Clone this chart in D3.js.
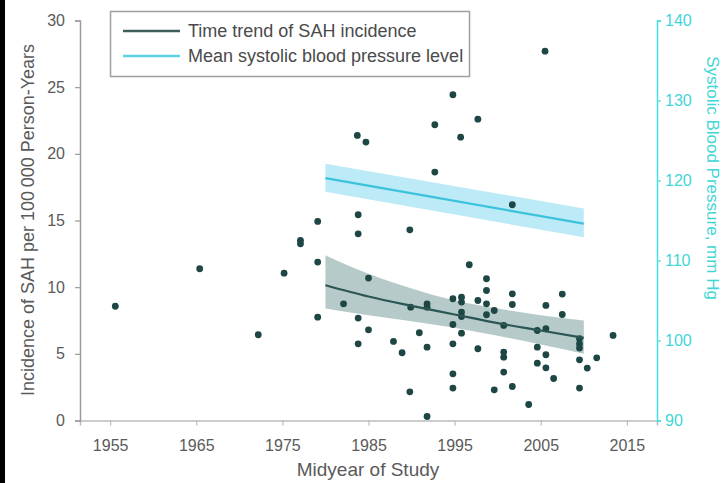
<!DOCTYPE html>
<html lang="en">
<head>
<meta charset="utf-8">
<title>SAH incidence and systolic blood pressure</title>
<script src="https://d3js.org/d3.v7.min.js"></script>
<style>
  body { margin: 0; background: #fff; }
  svg { display: block; font-family: "Liberation Sans Narrow", "Liberation Sans", Arial, sans-serif; }
</style>
</head>
<body>
<svg width="724" height="483"></svg>
<script>
// study points: midyear and incidence per 100 000 person-years
const studyYears = [1955.6, 1965.4, 1972.2, 1975.2, 1977.1, 1977.1, 1979.1, 1979.1, 1979.1, 1982.1,
  1983.8, 1983.8, 1983.8, 1983.8, 1983.7, 1984.7, 1985.0, 1985.0, 1987.9, 1988.9,
  1989.8, 1989.9, 1989.8, 1990.9, 1991.8, 1991.8, 1991.8, 1991.8, 1992.7, 1992.7,
  1994.8, 1994.8, 1994.8, 1994.8, 1994.8, 1994.8, 1995.7, 1995.8, 1995.8, 1995.8,
  1995.8, 1995.8, 1996.7, 1997.7, 1997.7, 1997.7, 1998.7, 1998.7, 1998.7, 1998.7,
  1999.6, 1999.6, 2000.7, 2000.7, 2000.7, 2000.7, 2001.7, 2001.7, 2001.7, 2001.7,
  2003.6, 2004.6, 2004.6, 2004.6, 2005.5, 2005.6, 2005.6, 2005.6, 2005.6, 2006.5,
  2007.5, 2007.5, 2009.5, 2009.5, 2009.5, 2009.5, 2009.5, 2010.4, 2011.5, 2013.4];
const studyRates = [8.57, 11.38, 6.43, 11.05, 13.5, 13.25, 14.93, 11.88, 7.75, 8.75,
  15.43, 14.0, 7.68, 5.75, 21.38, 20.88, 10.68, 6.8, 5.93, 5.08,
  14.3, 8.5, 2.15, 6.58, 8.75, 8.5, 5.5, 0.3, 22.18, 18.63,
  24.43, 9.13, 7.2, 5.75, 3.5, 2.43, 21.25, 9.25, 8.88, 8.13,
  7.8, 6.55, 11.68, 22.6, 9.0, 5.38, 10.63, 9.75, 8.75, 7.93,
  8.25, 2.3, 7.13, 5.13, 4.75, 3.63, 16.18, 9.5, 8.7, 2.55,
  1.2, 6.75, 5.5, 4.3, 27.7, 8.63, 6.88, 4.93, 3.95, 3.15,
  9.48, 7.95, 6.13, 5.75, 5.43, 4.55, 2.43, 3.93, 4.7, 6.38];

// time trend of SAH incidence with 95% CI
const trendYears = [1980, 1985, 1990, 1995, 2000, 2005, 2010];
const trendRate  = [10.15, 9.3, 8.6, 7.95, 7.3, 6.75, 6.2];
const trendUpper = [12.4, 11.0, 9.9, 9.0, 8.4, 7.9, 7.5];
const trendLower = [8.4, 7.9, 7.45, 6.95, 6.35, 5.7, 5.0];

// mean systolic blood pressure with 95% CI
const sbpYears = [1980, 2010];
const sbpMean  = [120.3, 114.6];
const sbpUpper = [122.1, 116.5];
const sbpLower = [118.6, 112.9];

const xTicks = [1955, 1965, 1975, 1985, 1995, 2005, 2015];
const yTicks = [0, 5, 10, 15, 20, 25, 30];
const y2Ticks = [90, 100, 110, 120, 130, 140];

const svg = d3.select("svg");
const margin = { left: 80, right: 657, top: 20.5, bottom: 420.5 };

const x = d3.scaleLinear().domain([1951.5, 2018.5]).range([margin.left, margin.right]);
const y = d3.scaleLinear().domain([0, 30]).range([margin.bottom, margin.top]);
const y2 = d3.scaleLinear().domain([90, 140]).range([margin.bottom, margin.top]);

const grey = "#9a9a9a";
const labelGrey = "#5a5a5a";
const cyan = "#45dede";

// black strip at the left edge
svg.append("rect").attr("x", 0).attr("y", 0).attr("width", 5).attr("height", 483).attr("fill", "#000");

// trend band (SAH)
const trend = trendYears.map((yr, i) => ({ yr, v: trendRate[i], lo: trendLower[i], hi: trendUpper[i] }));
svg.append("path")
  .datum(trend)
  .attr("fill", "#7a9e9c").attr("fill-opacity", 0.55)
  .attr("d", d3.area().curve(d3.curveMonotoneX).x(d => x(d.yr)).y0(d => y(d.lo)).y1(d => y(d.hi)));

// SBP band + line
const sbp = sbpYears.map((yr, i) => ({ yr, v: sbpMean[i], lo: sbpLower[i], hi: sbpUpper[i] }));
svg.append("path")
  .datum(sbp)
  .attr("fill", "#8fdcf0").attr("fill-opacity", 0.6)
  .attr("d", d3.area().x(d => x(d.yr)).y0(d => y2(d.lo)).y1(d => y2(d.hi)));
svg.append("path")
  .datum(sbp)
  .attr("fill", "none").attr("stroke", "#3cc3dc").attr("stroke-width", 2.2)
  .attr("d", d3.line().x(d => x(d.yr)).y(d => y2(d.v)));

// study points
const pts = studyYears.map((yr, i) => ({ yr, v: studyRates[i] }));
svg.append("g")
  .selectAll("circle")
  .data(pts)
  .join("circle")
  .attr("cx", d => x(d.yr))
  .attr("cy", d => y(d.v))
  .attr("r", 3.4)
  .attr("fill", "#1d4644");

svg.append("path")
  .datum(trend)
  .attr("fill", "none").attr("stroke", "#2a5654").attr("stroke-width", 2.2)
  .attr("d", d3.line().curve(d3.curveMonotoneX).x(d => x(d.yr)).y(d => y(d.v)));

// axes
function styleAxis(g, col, textCol) {
  g.select(".domain").attr("stroke", col).attr("stroke-width", 1.5);
  g.selectAll(".tick line").attr("stroke", col).attr("stroke-width", 1.2);
  g.selectAll(".tick text").attr("fill", textCol).attr("font-size", 16)
    .attr("font-family", "\"Liberation Sans Narrow\", \"Liberation Sans\", Arial, sans-serif");
}

svg.append("g")
  .attr("transform", `translate(0,${margin.bottom})`)
  .call(d3.axisBottom(x).tickValues(xTicks).tickFormat(d3.format("d")).tickSizeOuter(0).tickSize(5).tickPadding(14))
  .call(g => styleAxis(g, "#bdbdbd", labelGrey));

svg.append("g")
  .attr("transform", `translate(${margin.left},0)`)
  .call(d3.axisLeft(y).tickValues(yTicks).tickSizeOuter(0).tickSize(5).tickPadding(10))
  .call(g => styleAxis(g, grey, labelGrey));

svg.append("g")
  .attr("transform", `translate(${margin.right},0)`)
  .call(d3.axisRight(y2).tickValues(y2Ticks).tickSizeOuter(0).tickSize(4).tickPadding(4))
  .call(g => styleAxis(g, cyan, "#3fd6d6"));

// axis titles
svg.append("text")
  .attr("transform", `translate(34,220) rotate(-90)`)
  .attr("text-anchor", "middle")
  .attr("fill", labelGrey)
  .attr("font-size", 18)
  .text("Incidence of SAH per 100\u2009000 Person-Years");

svg.append("text")
  .attr("x", 368).attr("y", 476)
  .attr("text-anchor", "middle")
  .attr("fill", labelGrey)
  .attr("font-size", 19)
  .text("Midyear of Study");

svg.append("text")
  .attr("transform", `translate(707,178) rotate(90)`)
  .attr("text-anchor", "middle")
  .attr("fill", "#3fd6d6")
  .attr("font-size", 17)
  .text("Systolic Blood Pressure, mm Hg");

// legend
const legend = svg.append("g");
legend.append("rect")
  .attr("x", 110.5).attr("y", 11.5).attr("width", 359).attr("height", 65)
  .attr("fill", "#fff").attr("stroke", "#a0a0a0").attr("stroke-width", 1.5);
const legendItems = [
  { label: "Time trend of SAH incidence", color: "#3e5e5c" },
  { label: "Mean systolic blood pressure level", color: "#5fd0e6" }
];
legendItems.forEach((d, i) => {
  const ly = 31 + i * 25;
  legend.append("line")
    .attr("x1", 123).attr("x2", 180).attr("y1", ly).attr("y2", ly)
    .attr("stroke", d.color).attr("stroke-width", 2.5);
  legend.append("text")
    .attr("x", 188).attr("y", ly + 6)
    .attr("fill", "#4a4a4a")
    .attr("font-size", 18)
    .text(d.label);
});
</script>
</body>
</html>
